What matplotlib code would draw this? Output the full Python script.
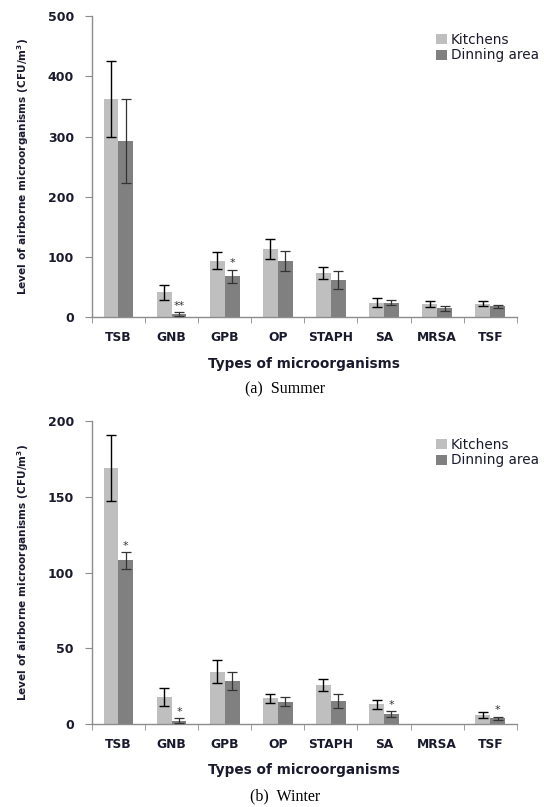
import matplotlib.pyplot as plt
import numpy as np

categories = ["TSB", "GNB", "GPB", "OP", "STAPH", "SA", "MRSA", "TSF"]

summer_kitchen = [362, 41, 94, 113, 73, 24, 22, 22]
summer_kitchen_err = [63, 12, 14, 16, 10, 7, 5, 4]
summer_dining = [293, 5, 68, 93, 61, 24, 15, 18]
summer_dining_err = [70, 3, 11, 17, 15, 4, 4, 2]
summer_marks = ["", "**", "*", "", "", "", "", ""]

winter_kitchen = [169, 17.5, 34.5, 17, 25.5, 13, 0, 6]
winter_kitchen_err = [22, 6, 7.5, 3, 4, 3, 0, 2]
winter_dining = [108, 2.2, 28.5, 14.5, 15.2, 6.5, 0, 3.8]
winter_dining_err = [5.5, 1.5, 6, 3, 4.5, 2, 0, 1]
winter_marks = ["*", "*", "", "", "", "*", "", "*"]

LIGHT = "#bfbfbf"
DARK = "#808080"
TEXT = "#1a1a2e"
SPINE = "#8c8c8c"


def draw_panel(ax, k, ke, d, de, marks, ymax, step, caption):
    x = np.arange(len(categories))
    w = 0.28
    ax.bar(x - w / 2, k, w, color=LIGHT, label="Kitchens", zorder=2)
    ax.bar(x + w / 2, d, w, color=DARK, label="Dinning area", zorder=2)
    ek = [e if v > 0 else np.nan for v, e in zip(k, ke)]
    ed = [e if v > 0 else np.nan for v, e in zip(d, de)]
    ax.errorbar(x - w / 2, k, yerr=ek, fmt="none", ecolor="black",
                elinewidth=1, capsize=3.5, capthick=1, zorder=3)
    ax.errorbar(x + w / 2, d, yerr=ed, fmt="none", ecolor="#333333",
                elinewidth=0.9, capsize=3.5, capthick=0.9, zorder=3)
    for i, m in enumerate(marks):
        if m:
            ax.text(x[i] + w / 2, d[i] + de[i] + ymax * 0.005, m, ha="center",
                    va="bottom", fontsize=8, color="#333333")

    ax.set_xlim(-0.5, len(categories) - 0.5)
    ax.set_ylim(0, ymax)
    ax.set_yticks(np.arange(0, ymax + 1, step))
    ax.set_xticks(x)
    ax.set_xticklabels(categories, fontsize=8.8, fontweight="bold", color=TEXT)
    ax.set_xticks(np.arange(len(categories) + 1) - 0.5, minor=True)
    ax.tick_params(axis="x", which="major", length=0, pad=10)
    ax.tick_params(axis="x", which="minor", length=4, color=SPINE, direction="out")
    ax.tick_params(axis="y", length=5, color=SPINE, labelsize=9, labelcolor=TEXT, pad=8)
    for lab in ax.get_yticklabels():
        lab.set_fontweight("bold")
    for s in ["top", "right"]:
        ax.spines[s].set_visible(False)
    for s in ["left", "bottom"]:
        ax.spines[s].set_color(SPINE)
        ax.spines[s].set_linewidth(1)

    ax.set_ylabel("Level of airborne microorganisms (CFU/m$^\\mathregular{3}$)",
                  fontsize=7.6, fontweight="bold", color=TEXT, labelpad=12)
    ax.set_xlabel("Types of microorganisms", fontsize=9.8, fontweight="bold",
                  color=TEXT, labelpad=9)
    ax.text(0.454, -0.24, caption, transform=ax.transAxes, ha="center", va="center",
            fontsize=11.5, family="Liberation Serif")
    ax.legend(loc="upper left", bbox_to_anchor=(0.782, 0.985), frameon=False,
              handlelength=0.75, handleheight=0.75, handletextpad=0.3,
              labelspacing=0.1, fontsize=9.8, labelcolor=TEXT)


fig = plt.figure(figsize=(5.44, 8.07), dpi=100)
ax1 = fig.add_axes([0.169, 0.607, 0.781, 0.373])
ax2 = fig.add_axes([0.169, 0.103, 0.781, 0.375])

draw_panel(ax1, summer_kitchen, summer_kitchen_err, summer_dining, summer_dining_err,
           summer_marks, 500, 100, "(a)  Summer")
draw_panel(ax2, winter_kitchen, winter_kitchen_err, winter_dining, winter_dining_err,
           winter_marks, 200, 50, "(b)  Winter")

fig.savefig("out.png", dpi=100)
